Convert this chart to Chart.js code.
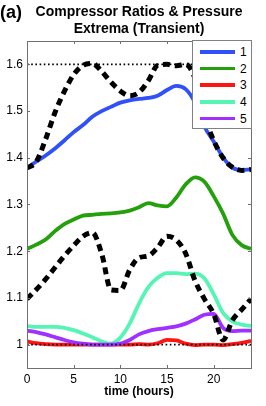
<!DOCTYPE html>
<html>
<head>
<meta charset="utf-8">
<script src="https://cdn.jsdelivr.net/npm/chart.js"></script>
<style>
  html, body { margin: 0; padding: 0; background: #fff; }
  #wrap { position: relative; width: 266px; height: 406px; font-family: "Liberation Sans", Arial, sans-serif; color: #000; }
  #wrap canvas { position: absolute; left: 0; top: 0; }
  #panel { position: absolute; left: 0; top: 2px; font-weight: bold; font-size: 18px; line-height: 20px; }
  #title { position: absolute; left: 23px; width: 232px; top: 3px; text-align: center; font-weight: bold; font-size: 14px; line-height: 17px; }
  #legend { position: absolute; left: 192px; top: 40px; width: 58px; height: 87px; border: 1px solid #808080; background: #fff; }
  #legend .item { position: absolute; left: 0; width: 58px; height: 16px; }
  #legend .swatch { position: absolute; left: 7px; top: 6px; width: 35px; height: 3.5px; }
  #legend .lbl { position: absolute; left: 47px; top: 0; font-size: 12px; line-height: 16px; }
</style>
</head>
<body>
<div id="wrap">
  <canvas id="chart" width="266" height="406"></canvas>
  <div id="panel">(a)</div>
  <div id="title">Compressor Ratios &amp; Pressure<br>Extrema (Transient)</div>
  <div id="legend"></div>
</div>
<script>
// time axis (hours) shared by all series
const hours = [0, 1, 2, 3, 4, 5, 6, 7, 8, 9, 10, 11, 12, 13, 14, 15, 16, 17, 18, 19, 20, 21, 22, 23, 24];

// compressor ratios 1..5
const ratio1 = [1.378, 1.392, 1.405, 1.420, 1.437, 1.455, 1.470, 1.488, 1.500, 1.509, 1.518, 1.523, 1.526, 1.528, 1.533, 1.545, 1.554, 1.547, 1.518, 1.467, 1.435, 1.401, 1.379, 1.374, 1.375];
const ratio2 = [1.205, 1.214, 1.225, 1.243, 1.258, 1.268, 1.276, 1.278, 1.280, 1.281, 1.283, 1.287, 1.294, 1.303, 1.298, 1.296, 1.315, 1.343, 1.358, 1.349, 1.318, 1.281, 1.235, 1.213, 1.205];
const ratio3 = [1.007, 1.003, 1.001, 1.000, 1.000, 1.000, 1.000, 1.000, 1.000, 1.000, 1.000, 1.000, 1.001, 1.000, 1.003, 1.010, 1.009, 1.002, 0.999, 1.000, 1.000, 0.999, 1.001, 1.004, 1.008];
const ratio4 = [1.040, 1.038, 1.038, 1.038, 1.036, 1.031, 1.024, 1.016, 1.007, 1.002, 1.015, 1.045, 1.088, 1.123, 1.143, 1.153, 1.153, 1.151, 1.152, 1.142, 1.108, 1.068, 1.050, 1.043, 1.040];
const ratio5 = [1.030, 1.027, 1.022, 1.016, 1.010, 1.005, 1.002, 1.000, 1.000, 1.000, 1.002, 1.010, 1.022, 1.029, 1.033, 1.036, 1.039, 1.045, 1.054, 1.064, 1.066, 1.036, 1.029, 1.030, 1.030];

// pressure extrema (dashed)
const pressMax = [1.378, 1.392, 1.440, 1.497, 1.542, 1.578, 1.598, 1.602, 1.585, 1.562, 1.543, 1.533, 1.540, 1.565, 1.598, 1.600, 1.597, 1.600, 1.570, 1.490, 1.437, 1.400, 1.380, 1.373, 1.375];
const pressMin = [1.098, 1.118, 1.140, 1.165, 1.190, 1.212, 1.232, 1.240, 1.195, 1.117, 1.116, 1.160, 1.186, 1.190, 1.208, 1.232, 1.224, 1.195, 1.137, 1.098, 1.066, 1.010, 1.052, 1.075, 1.098];

// pressure bounds (dotted)
const bounds = [1.0, 1.6];

const seriesNames = ['1', '2', '3', '4', '5'];
const seriesValues = [ratio1, ratio2, ratio3, ratio4, ratio5];
const seriesColors = ['#3050f8', '#24a00c', '#ff1414', '#55f5b5', '#a030ff'];

const xTicks = [0, 5, 10, 15, 20];
const yTicks = [1.0, 1.1, 1.2, 1.3, 1.4, 1.5, 1.6];
const yTickLabels = ['1', '1.1', '1.2', '1.3', '1.4', '1.5', '1.6'];

function toPoints(vals) {
  return hours.map((h, i) => ({ x: h, y: vals[i] }));
}

const datasets = [];

// dotted bound lines on top
bounds.forEach(b => {
  datasets.push({
    data: [{ x: hours[0], y: b }, { x: hours[hours.length - 1], y: b }],
    borderColor: '#000',
    borderWidth: 1.6,
    borderDash: [1.6, 2.6],
    pointRadius: 0,
    order: 0
  });
});

// dashed extrema
[pressMax, pressMin].forEach(vals => {
  datasets.push({
    data: toPoints(vals),
    borderColor: '#000',
    borderWidth: 5,
    borderDash: [7, 5],
    borderCapStyle: 'butt',
    cubicInterpolationMode: 'monotone',
    pointRadius: 0,
    order: 1
  });
});

seriesValues.forEach((vals, i) => {
  datasets.push({
    data: toPoints(vals),
    borderColor: seriesColors[i],
    borderWidth: 3.8,
    cubicInterpolationMode: 'monotone',
    pointRadius: 0,
    order: 2 + (4 - i)
  });
});

// box with inward tick marks (MATLAB style)
const boxTicks = {
  id: 'boxTicks',
  afterDatasetsDraw(chart) {
    const { ctx, chartArea: a, scales } = chart;
    const len = 3;
    ctx.save();
    ctx.strokeStyle = '#707070';
    ctx.lineWidth = 1;
    ctx.strokeRect(Math.round(a.left) + 0.5, Math.round(a.top) + 0.5, Math.round(a.right - a.left), Math.round(a.bottom - a.top));
    ctx.beginPath();
    xTicks.forEach(v => {
      const px = Math.round(scales.x.getPixelForValue(v)) + 0.5;
      ctx.moveTo(px, a.bottom); ctx.lineTo(px, a.bottom - len);
      ctx.moveTo(px, a.top); ctx.lineTo(px, a.top + len);
    });
    yTicks.forEach(v => {
      const py = Math.round(scales.y.getPixelForValue(v)) + 0.5;
      ctx.moveTo(a.left, py); ctx.lineTo(a.left + len, py);
      ctx.moveTo(a.right, py); ctx.lineTo(a.right - len, py);
    });
    ctx.stroke();
    ctx.restore();
  }
};

const tickFont = { family: '"Liberation Sans", Arial, sans-serif', size: 12 };

new Chart(document.getElementById('chart'), {
  type: 'line',
  data: { datasets: datasets },
  options: {
    responsive: false,
    animation: false,
    layout: { padding: { left: 0, right: 15, top: 41, bottom: 0 } },
    plugins: { legend: { display: false }, tooltip: { enabled: false } },
    scales: {
      x: {
        type: 'linear',
        min: 0,
        max: 24,
        afterBuildTicks: s => { s.ticks = xTicks.map(v => ({ value: v })); },
        afterFit: s => { s.height = 38; },
        grid: { display: false, drawTicks: false, tickLength: 0 },
        border: { display: false },
        ticks: { font: tickFont, color: '#000', padding: 4, maxRotation: 0, callback: v => String(v) },
        title: {
          display: true,
          text: 'time (hours)',
          color: '#000',
          font: { family: '"Liberation Sans", Arial, sans-serif', size: 12, weight: 'bold' },
          padding: { top: 0, bottom: 7 }
        }
      },
      y: {
        type: 'linear',
        min: 0.95,
        max: 1.65,
        afterBuildTicks: s => { s.ticks = yTicks.map(v => ({ value: v })); },
        afterFit: s => { s.width = 27; },
        grid: { display: false, drawTicks: false, tickLength: 0 },
        border: { display: false },
        ticks: { font: tickFont, color: '#000', padding: 4, callback: (v, i) => yTickLabels[i] }
      }
    }
  },
  plugins: [boxTicks]
});

// legend box
const legend = document.getElementById('legend');
seriesNames.forEach((name, i) => {
  const item = document.createElement('div');
  item.className = 'item';
  item.style.top = (3 + i * 16.7) + 'px';
  item.innerHTML = '<div class="swatch" style="background:' + seriesColors[i] + '"></div><div class="lbl">' + name + '</div>';
  legend.appendChild(item);
});
</script>
</body>
</html>
